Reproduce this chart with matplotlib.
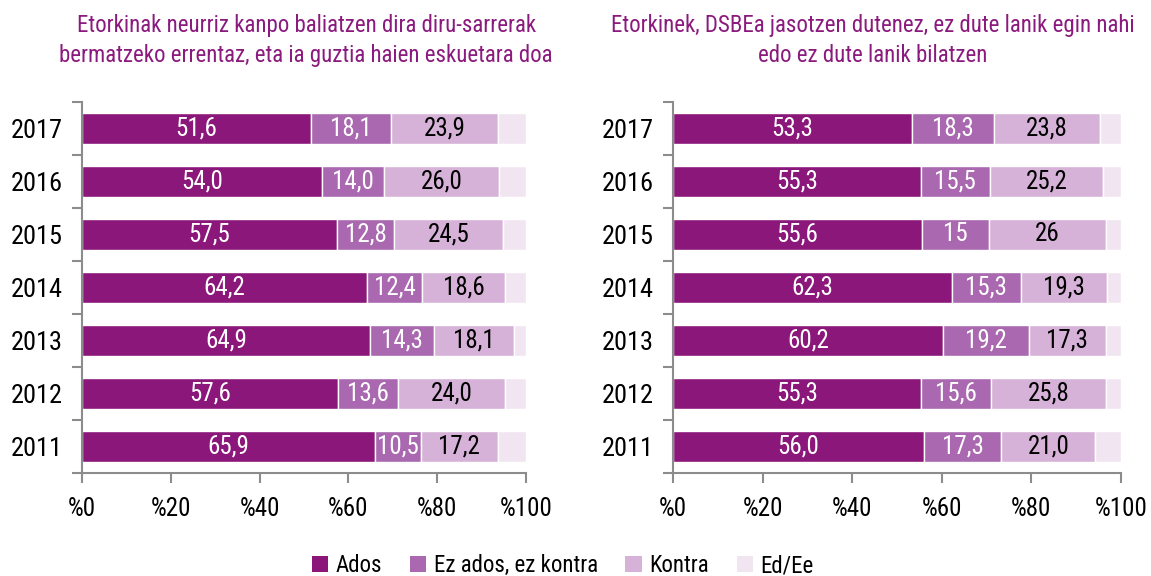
import matplotlib
matplotlib.use("Agg")
import matplotlib.pyplot as plt
from matplotlib.patches import Patch
from matplotlib import font_manager

_fonts = font_manager.fontManager.ttflist
_names = {f.name for f in _fonts}
FONT_FAMILY, FONT_STRETCH = 'DejaVu Sans', 'normal'
for cand in ['Roboto Condensed', 'Archivo Narrow', 'PT Sans Narrow']:
    if cand in _names:
        FONT_FAMILY = cand
        break
else:
    if any(f.name == 'Open Sans' and str(f.stretch) == 'condensed' for f in _fonts):
        FONT_FAMILY, FONT_STRETCH = 'Open Sans', 'condensed'
plt.rcParams['font.family'] = [FONT_FAMILY, 'DejaVu Sans']
plt.rcParams['font.stretch'] = FONT_STRETCH
plt.rcParams['font.weight'] = 'normal'

years = ["2011", "2012", "2013", "2014", "2015", "2016", "2017"]
series_names = ["Ados", "Ez ados, ez kontra", "Kontra", "Ed/Ee"]
colors = ["#8B177B", "#A968AF", "#D6B2D8", "#F1E5F2"]
title_color = "#8B1A7E"

left_title = "Etorkinak neurriz kanpo baliatzen dira diru-sarrerak\nbermatzeko errentaz, eta ia guztia haien eskuetara doa"
right_title = "Etorkinek, DSBEa jasotzen dutenez, ez dute lanik egin nahi\nedo ez dute lanik bilatzen"

# left chart (order 2011 -> 2017)
left_ados = [65.9, 57.6, 64.9, 64.2, 57.5, 54.0, 51.6]
left_ezados = [10.5, 13.6, 14.3, 12.4, 12.8, 14.0, 18.1]
left_kontra = [17.2, 24.0, 18.1, 18.6, 24.5, 26.0, 23.9]
left_eded = [6.4, 4.8, 2.7, 4.8, 5.2, 6.0, 6.4]
left_labels = [["65,9", "57,6", "64,9", "64,2", "57,5", "54,0", "51,6"],
               ["10,5", "13,6", "14,3", "12,4", "12,8", "14,0", "18,1"],
               ["17,2", "24,0", "18,1", "18,6", "24,5", "26,0", "23,9"]]

# right chart
right_ados = [56.0, 55.3, 60.2, 62.3, 55.6, 55.3, 53.3]
right_ezados = [17.3, 15.6, 19.2, 15.3, 15.0, 15.5, 18.3]
right_kontra = [21.0, 25.8, 17.3, 19.3, 26.0, 25.2, 23.8]
right_eded = [5.7, 3.3, 3.3, 3.1, 3.4, 4.0, 4.6]
right_labels = [["56,0", "55,3", "60,2", "62,3", "55,6", "55,3", "53,3"],
                ["17,3", "15,6", "19,2", "15,3", "15", "15,5", "18,3"],
                ["21,0", "25,8", "17,3", "19,3", "26", "25,2", "23,8"]]

xticks = [0, 20, 40, 60, 80, 100]
xticklabels = ["%0", "%20", "%40", "%60", "%80", "%100"]

fig = plt.figure(figsize=(11.51, 5.76), dpi=100)
axL = fig.add_axes([0.0712, 0.179, 0.3858, 0.644])
axR = fig.add_axes([0.5847, 0.179, 0.3892, 0.644])

def draw(ax, series, labels):
    y = list(range(len(years)))
    left = [0.0] * len(years)
    for i, vals in enumerate(series):
        bars = ax.barh(y, vals, left=left, height=0.6, color=colors[i],
                       edgecolor="white", linewidth=1.0)
        if i < 3:
            tc = "white" if i < 2 else "black"
            ax.bar_label(bars, labels=labels[i], label_type="center",
                         color=tc, fontsize=18)
        left = [l + v for l, v in zip(left, vals)]
    ax.set_xlim(0, 100)
    ax.set_ylim(-0.5, len(years) - 0.5)
    ax.set_yticks(y)
    ax.set_yticklabels(years, fontsize=19)
    ax.set_yticks([k - 0.5 for k in range(len(years) + 1)], minor=True)
    ax.tick_params(axis="y", which="major", length=0, pad=14)
    ax.tick_params(axis="y", which="minor", length=7, width=1.5, color="#8c8c8c")
    ax.set_xticks(xticks)
    ax.set_xticklabels(xticklabels, fontsize=18)
    ax.tick_params(axis="x", length=7, width=1.5, color="#8c8c8c", pad=10)
    for s in ["top", "right"]:
        ax.spines[s].set_visible(False)
    for s in ["left", "bottom"]:
        ax.spines[s].set_color("#8c8c8c")
        ax.spines[s].set_linewidth(1.5)

draw(axL, [left_ados, left_ezados, left_kontra, left_eded], left_labels)
draw(axR, [right_ados, right_ezados, right_kontra, right_eded], right_labels)

fig.text(0.266, 0.975, left_title, ha="center", va="top", color=title_color,
         fontsize=16.5, linespacing=1.35)
fig.text(0.758, 0.975, right_title, ha="center", va="top", color=title_color,
         fontsize=16.5, linespacing=1.35)

handles = [Patch(facecolor=c, edgecolor="none") for c in colors]
fig.legend(handles, series_names, loc="center", bbox_to_anchor=(0.489, 0.018),
           ncol=4, frameon=False, fontsize=16.5, handlelength=0.7, handleheight=0.7,
           handletextpad=0.35, columnspacing=1.2)

fig.savefig("out.png", dpi=100)
